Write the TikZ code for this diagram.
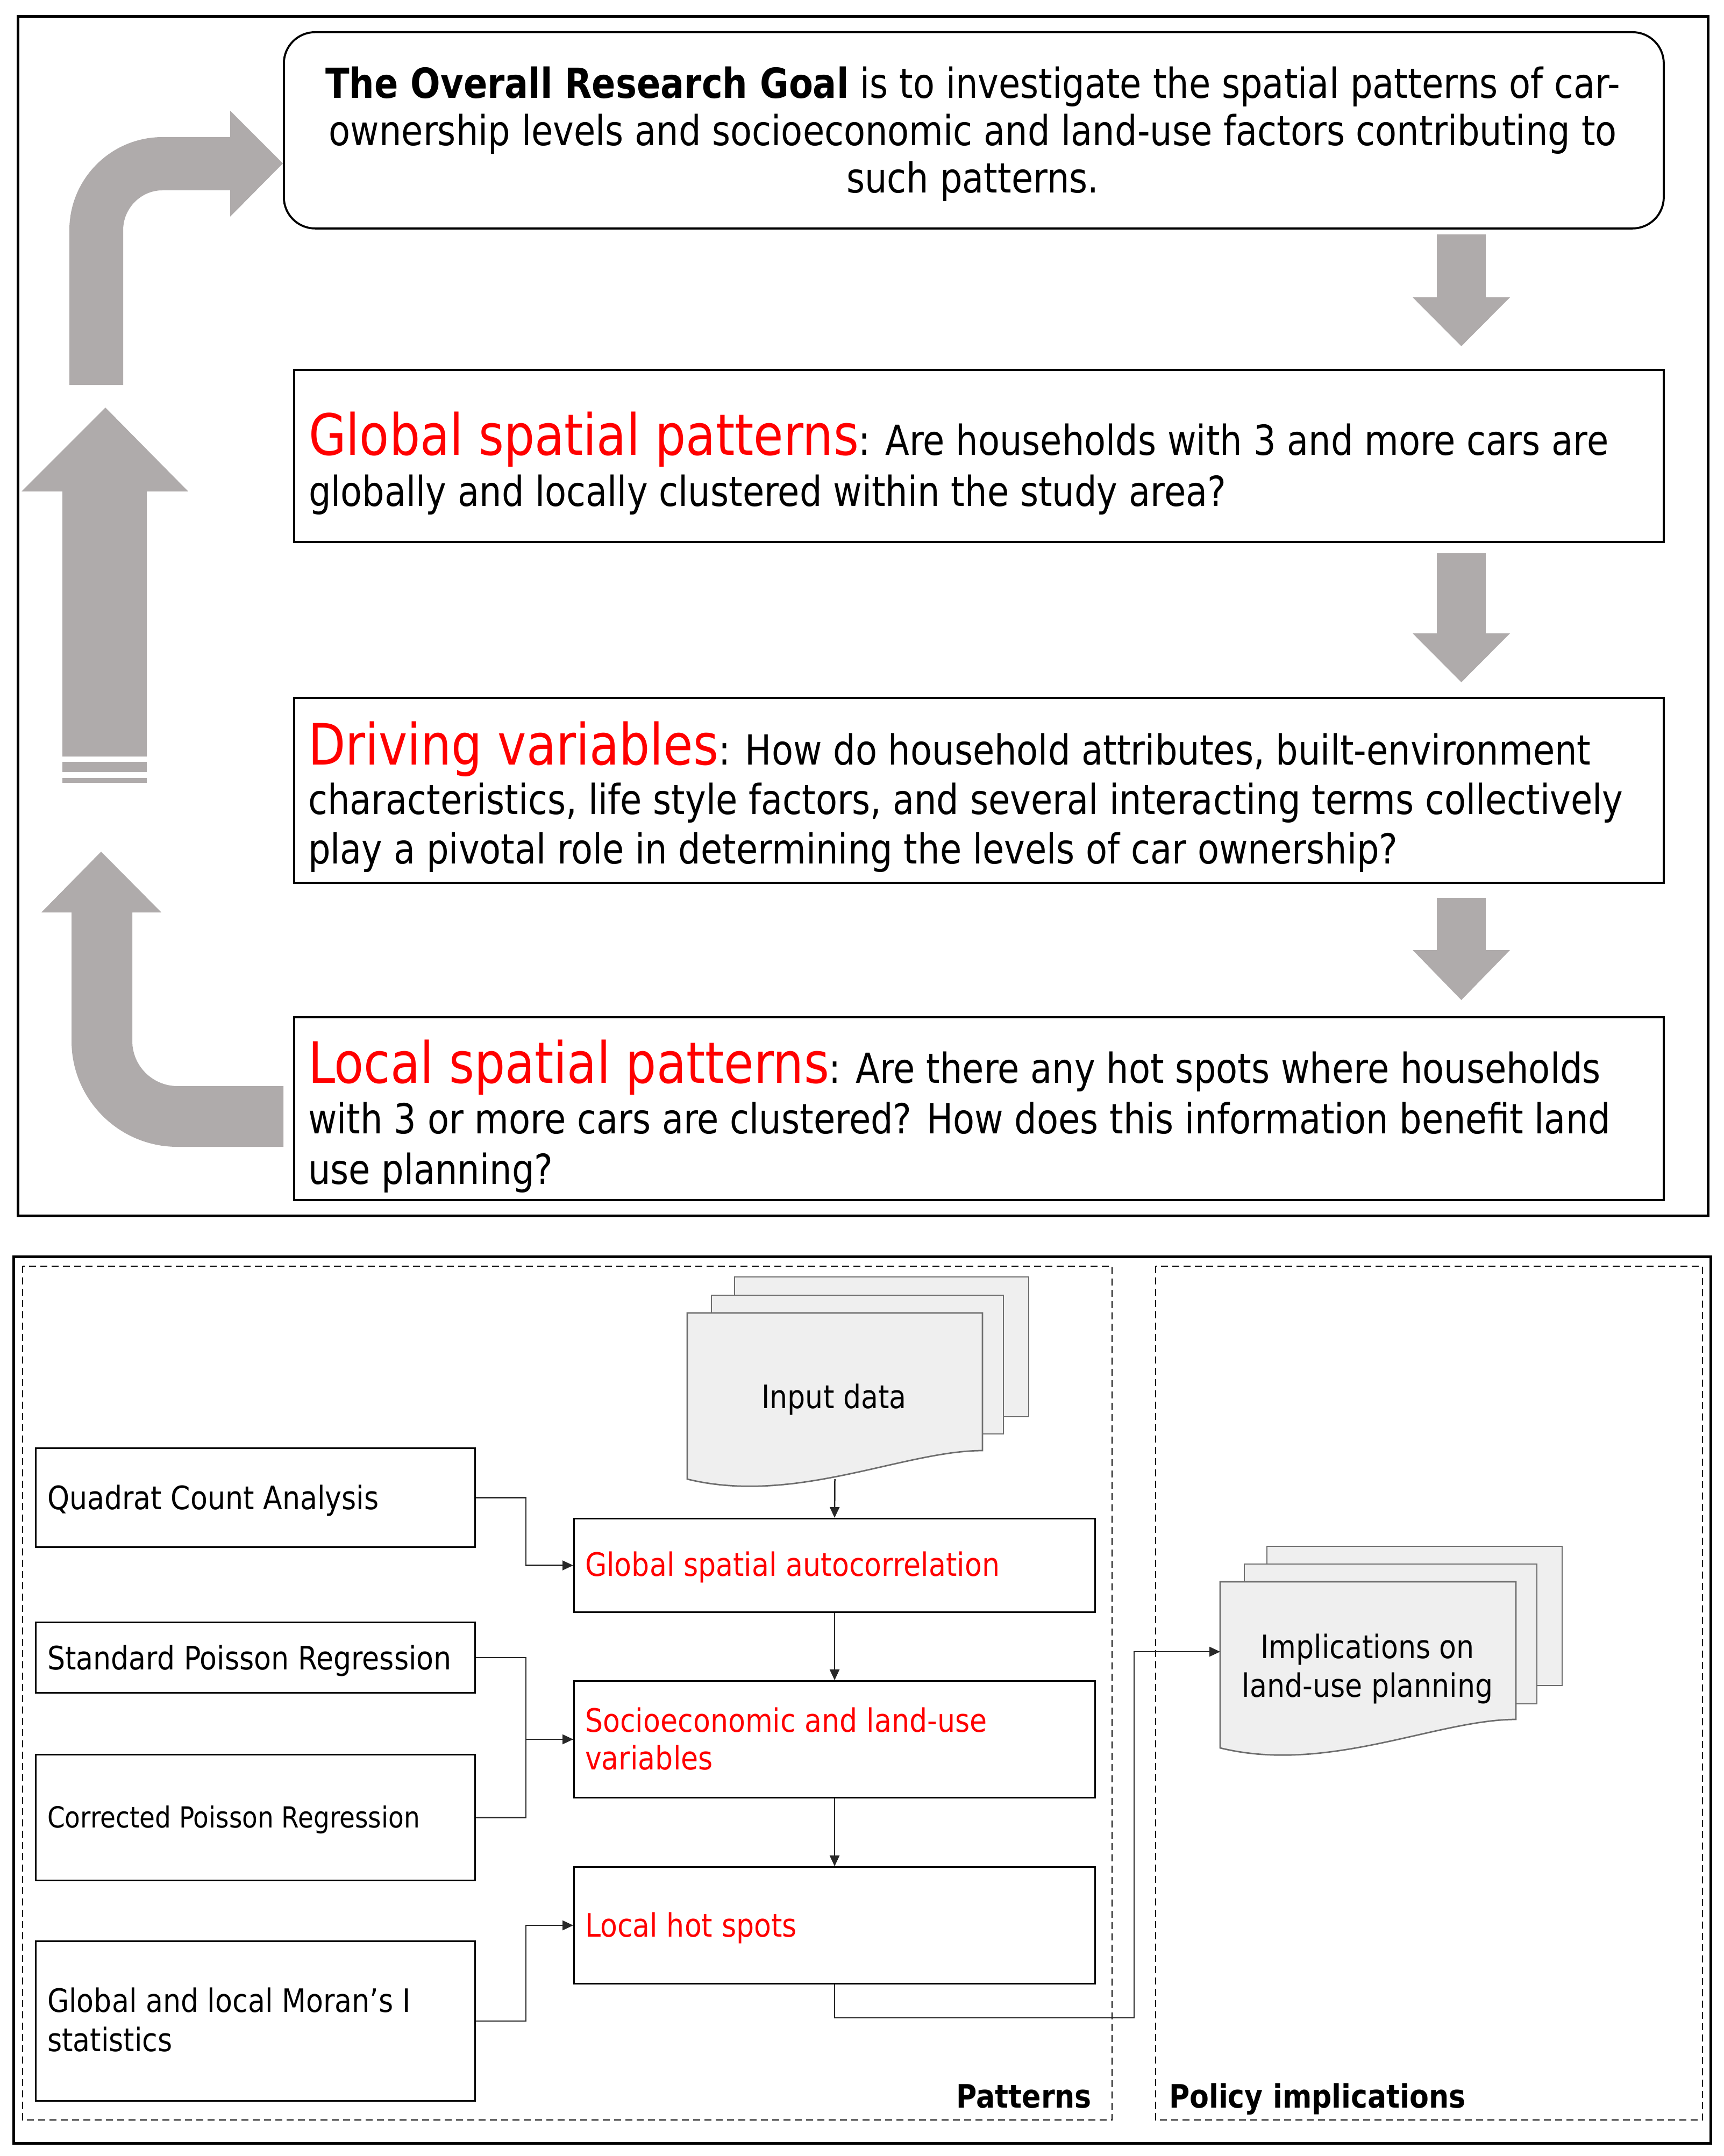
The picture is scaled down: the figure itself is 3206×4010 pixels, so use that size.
\documentclass[tikz,border=0pt]{standalone}
\usepackage{fontspec}
\newfontfamily\topfont{DejaVu Sans}[FakeStretch=0.85]
\newfontfamily\botfont{DejaVu Sans}[FakeStretch=0.87]
\usetikzlibrary{arrows.meta,calc}
\definecolor{arrowgray}{RGB}{175,171,171}
\definecolor{docfill}{RGB}{239,239,239}
\definecolor{docline}{RGB}{110,110,110}
\definecolor{conncol}{RGB}{40,40,40}
\definecolor{titlered}{RGB}{255,0,0}
\newcommand{\ttl}[1]{{\color{titlered}\fontsize{21.2pt}{25pt}\selectfont #1}}
\newcommand{\dnarrow}[3]{\fill[arrowgray] (2672,#1) -- (2763,#1) -- (2763,#2) -- (2808,#2) -- (2717.5,#3) -- (2627,#2) -- (2672,#2) -- cycle;}
\newcommand{\docshape}[1]{\draw[doc] (#1.north west) -- (#1.north east) -- ($(#1.north east)+(0,256)$) .. controls ($(#1.north east)+(-147,256)$) and ($(#1.south west)+(200,49)$) .. (#1.south west) -- cycle;}
\begin{document}
\begin{tikzpicture}[x=0.2pt,y=-0.2pt,
  frame/.style={draw=black,line width=1pt},
  panel/.style={draw=black,dash pattern=on 2.6pt off 1.6pt,line width=0.5pt},
  qbox/.style={draw=black,line width=0.75pt,inner sep=0pt,anchor=north west,minimum width=509.4pt},
  fbox/.style={draw=black,line width=0.6pt,inner sep=0pt,anchor=north west},
  lbox/.style={fbox,minimum width=163.4pt},
  rbox/.style={fbox,minimum width=193.8pt},
  toptext/.style={inner sep=0pt,align=left,anchor=north west,font={\topfont\fontsize{15.4pt}{18.6pt}\selectfont}},
  bottext/.style={inner sep=0pt,anchor=base west,font={\botfont\fontsize{12pt}{14.4pt}\selectfont}},
  conn/.style={draw=conncol,line width=0.5pt,-{Triangle[length=4pt,width=3.6pt]}},
  plainline/.style={draw=conncol,line width=0.5pt},
  doc/.style={draw=docline,fill=docfill,line width=0.55pt},
  docnode/.style={draw=none,inner sep=0pt,anchor=north west,minimum width=109.4pt,minimum height=61.4pt}
]
\useasboundingbox (0,0) rectangle (3206,4010);

% ---------- top panel ----------
\draw[frame] (33,31) rectangle (3176,2261);

\node[draw=black,line width=0.75pt,rounded corners=11.6pt,minimum width=513.2pt,minimum height=73pt,inner sep=0pt,anchor=north west] (goal) at (526,58) {};
\node[inner sep=0pt,anchor=north,align=center,font={\topfont\fontsize{15.4pt}{17.6pt}\selectfont}] (goaltxt) at (1809,122.6)
  {\textbf{The Overall Research Goal} is to investigate the spatial patterns of car-\\ownership levels and socioeconomic and land-use factors contributing to\\such patterns.};

\node[qbox,minimum height=64pt] (glob) at (545,686) {};
\node[toptext,font={\topfont\fontsize{15.4pt}{19pt}\selectfont}] (globtxt) at (573,764.7)
  {\ttl{Global spatial patterns}: Are households with 3 and more cars are\\globally and locally clustered within the study area?};

\node[qbox,minimum height=68.8pt] (driv) at (545,1296) {};
\node[toptext,font={\topfont\fontsize{15.4pt}{18.4pt}\selectfont}] (drivtxt) at (572,1340.7)
  {\ttl{Driving variables}: How do household attributes, built-environment\\characteristics, life style factors, and several interacting terms collectively\\play a pivotal role in determining the levels of car ownership?};

\node[qbox,minimum height=68pt] (locl) at (545,1890) {};
\node[toptext,font={\topfont\fontsize{15.4pt}{18.8pt}\selectfont}] (locltxt) at (572,1932.7)
  {\ttl{Local spatial patterns}: Are there any hot spots where households\\with 3 or more cars are clustered? How does this information benefit land\\use planning?};

% gray block arrows
\dnarrow{436}{553}{644}
\dnarrow{1029}{1178}{1269}
\dnarrow{1670}{1767}{1860}

\fill[arrowgray] (196,758) -- (350,914) -- (273,914) -- (273,1407) -- (116,1407) -- (116,914) -- (40,914) -- cycle;
\fill[arrowgray] (116,1417) rectangle (273,1436);
\fill[arrowgray] (116,1447) rectangle (273,1456);

\fill[arrowgray] (129,716) -- (129,428) .. controls (129,332.5) and (206.5,255) .. (302,255) -- (428,255) -- (428,206) -- (526,304) -- (428,403) -- (428,354) -- (302,354) .. controls (261.7,354) and (229,387.7) .. (229,428) -- (229,716) -- cycle;

\fill[arrowgray] (188,1584) -- (300,1697) -- (246,1697) -- (246,1936) .. controls (246,1982.4) and (283.6,2020) .. (330,2020) -- (527,2020) -- (527,2133) -- (330,2133) .. controls (221.2,2133) and (133,2044.8) .. (133,1936) -- (133,1697) -- (77,1697) -- cycle;

% ---------- bottom panel ----------
\draw[frame] (25,2337) rectangle (3181,3986);
\draw[panel] (42,2355) rectangle (2068,3943);
\draw[panel] (2149,2355) rectangle (3166,3943);

% input data documents
\draw[doc] (1366,2375) rectangle (1913,2635);
\draw[doc] (1323,2409) rectangle (1866,2667);
\node[docnode] (input) at (1278,2442) {};
\docshape{input}
\node[bottext,anchor=base] (inputtxt) at (1551,2619) {Input data};

% implications documents
\draw[doc] (2356,2876) rectangle (2905,3135);
\draw[doc] (2314,2909) rectangle (2858,3169);
\node[docnode,minimum width=109.6pt] (impl) at (2269,2942) {};
\docshape{impl}
\node[bottext,anchor=north,align=center,font={\botfont\fontsize{12pt}{14.4pt}\selectfont}] (impltxt) at (2543,3037.4) {Implications on\\land-use planning};

% left method boxes
\node[lbox,minimum height=36.8pt] (quad) at (65,2692) {};
\node[bottext] (quadtxt) at (87,2807) {Quadrat Count Analysis};
\node[lbox,minimum height=26.2pt] (spr) at (65,3016) {};
\node[bottext] (sprtxt) at (87,3105) {Standard Poisson Regression};
\node[lbox,minimum height=46.8pt] (cpr) at (65,3262) {};
\node[bottext,font={\botfont\fontsize{10.8pt}{13pt}\selectfont}] (cprtxt) at (87,3399) {Corrected Poisson Regression};
\node[lbox,minimum height=59.4pt] (moran) at (65,3609) {};
\node[bottext,anchor=north west,align=left,font={\botfont\fontsize{12pt}{14.6pt}\selectfont}] (morantxt) at (87,3695.4) {Global and local Moran’s I\\statistics};

% central step boxes
\node[rbox,minimum height=34.8pt] (gsa) at (1066,2823) {};
\node[bottext,text=titlered] (gsatxt) at (1087,2931) {Global spatial autocorrelation};
\node[rbox,minimum height=43.4pt] (socio) at (1066,3125) {};
\node[bottext,anchor=north west,align=left,text=titlered,font={\botfont\fontsize{12pt}{14pt}\selectfont}] (sociotxt) at (1087,3174.4) {Socioeconomic and land-use\\variables};
\node[rbox,minimum height=43.4pt] (lhs) at (1066,3471) {};
\node[bottext,text=titlered] (lhstxt) at (1087,3602) {Local hot spots};

% labels
\node[bottext,anchor=base east,font={\botfont\bfseries\fontsize{12pt}{14pt}\selectfont}] (pattxt) at (2031,3920) {Patterns};
\node[bottext,anchor=base west,font={\botfont\bfseries\fontsize{12pt}{14pt}\selectfont}] (poltxt) at (2173,3920) {Policy implications};

% connectors
\draw[conn] (input.south) -- (gsa.north);
\draw[conn] (gsa.south) -- (socio.north);
\draw[conn] (socio.south) -- (lhs.north);
\draw[conn] (quad.east) -- ++(93,0) |- (gsa.west);
\draw[conn] (spr.east) -- ++(93,0) |- (socio.west);
\draw[plainline] (cpr.east) -- ++(93,0) |- (socio.west);
\draw[conn] (moran.east) -- ++(93,0) |- (lhs.west);
\coordinate (implin) at ($(impl.north west)+(0,130)$);
\draw[conn] (lhs.south) |- ($(lhs.south)+(557,62)$) |- (implin);
\end{tikzpicture}
\end{document}
